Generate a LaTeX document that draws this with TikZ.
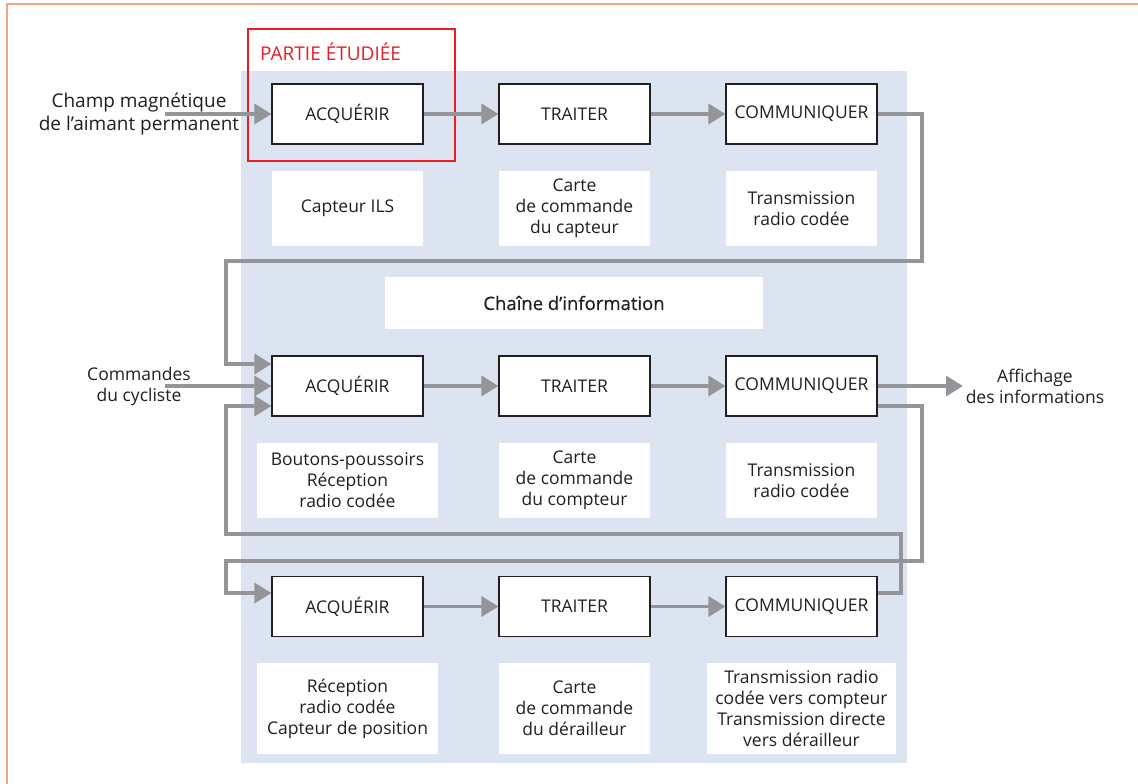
\documentclass[tikz,border=0pt]{standalone}
\usepackage{fontspec}
\setmainfont{Open Sans}
\newfontfamily\semib[FakeBold=0.5]{Open Sans}
\usetikzlibrary{arrows.meta,calc}
\definecolor{bluebg}{RGB}{219,228,240}
\definecolor{arrgray}{RGB}{147,149,152}
\definecolor{redpart}{RGB}{237,28,36}
\definecolor{frameor}{RGB}{238,165,130}
\definecolor{txt}{RGB}{35,31,32}
\tikzset{
  fnt/.style={font=\fontsize{17.5}{21}\selectfont, text=txt},
  proc/.style={fnt, draw=txt, line width=1.1pt, fill=white, minimum width=151pt, minimum height=60pt, inner sep=0pt},
  desc/.style={fnt, fill=white, minimum width=151pt, minimum height=75pt, inner sep=0pt, align=center},
  lbl/.style={fnt, align=center},
  arr/.style={draw=arrgray, line width=3.5pt, -{Triangle[length=17pt,width=20pt]}},
}
\begin{document}
\begin{tikzpicture}[x=1pt,y=-1pt]
\useasboundingbox (0,0) rectangle (1138,784);
\fill[white] (0,0) rectangle (1138,784);
\draw[frameor, line width=1.5pt] (7,784) -- (7,4) -- (1138,4);
% blue background
\fill[bluebg] (241,71) rectangle (907,763);
% red studied part
\draw[redpart, line width=1.4pt] (248,29) rectangle (455,161);
\node[anchor=west, font=\fontsize{19}{21}\selectfont, text=redpart, inner sep=0pt] (part) at (260,52) {PARTIE ÉTUDIÉE};

% row 1
\node[proc] (a1) at (347.5,114) {ACQUÉRIR};
\node[proc] (t1) at (574.5,114) {TRAITER};
\node[proc] (c1) at (801.5,114) {COMMUNIQUER};
\node[desc] (d11) at (347.5,208.5) {Capteur ILS};
\node[desc] (d12) at (574.5,208.5) {Carte\\de commande\\du capteur};
\node[desc] (d13) at (801.5,208.5) {Transmission\\radio codée};

% chain label
\node[desc, minimum width=378pt, minimum height=52pt, font=\semib\fontsize{18.5}{21}\selectfont] (chain) at (574,303) {Chaîne d’information};

% row 2
\node[proc] (a2) at (347.5,386) {ACQUÉRIR};
\node[proc] (t2) at (574.5,386) {TRAITER};
\node[proc] (c2) at (801.5,386) {COMMUNIQUER};
\node[desc, minimum width=181pt] (d21) at (347.5,480.5) {Boutons-poussoirs\\Réception\\radio codée};
\node[desc] (d22) at (574.5,480.5) {Carte\\de commande\\du compteur};
\node[desc] (d23) at (801.5,480.5) {Transmission\\radio codée};

% row 3
\node[proc] (a3) at (347.5,606.5) {ACQUÉRIR};
\node[proc] (t3) at (574.5,606.5) {TRAITER};
\node[proc] (c3) at (801.5,606.5) {COMMUNIQUER};
\node[desc, minimum width=181pt, minimum height=91pt] (d31) at (347.5,708.5) {Réception\\radio codée\\Capteur de position};
\node[desc, minimum height=91pt] (d32) at (574.5,708.5) {Carte\\de commande\\du dérailleur};
\node[desc, minimum width=189pt, minimum height=91pt] (d33) at (801.5,708.5) {Transmission radio\\codée vers compteur\\Transmission directe\\vers dérailleur};

% external labels
\node[lbl, font=\fontsize{19}{23}\selectfont] (champ) at (139,114) {Champ magnétique\\de l’aimant permanent};
\node[lbl] (cmd) at (139,386) {Commandes\\du cycliste};
\node[lbl] (aff) at (1035,386) {Affichage\\des informations};
\coordinate (champin) at (165,114);
\coordinate (cmdin) at (165,386);
\coordinate (affout) at (963,386);

% connectors
\draw[arr] (champin) -- (a1.west);
\draw[arr] (a1) -- (t1);
\draw[arr] (t1) -- (c1);
\draw[arr] (c1.east) -- (922,114) |- (226,261) |- ($(a2.west)+(0,-22)$);
\draw[arr] (cmdin) -- (a2.west);
\draw[arr] (a2) -- (t2);
\draw[arr] (t2) -- (c2);
\draw[arr] (c2.east) -- (affout);
\draw[arr] ($(c2.east)+(0,20)$) -- (922,406) |- (226,561) |- ($(a3.west)+(0,-13.5)$);
\draw[arr] (a3) -- (t3);
\draw[arr] (t3) -- (c3);
\draw[arr] ($(c3.east)+(0,-13.5)$) -- (901,593) |- (226,534) |- ($(a2.west)+(0,20)$);
\end{tikzpicture}
\end{document}
